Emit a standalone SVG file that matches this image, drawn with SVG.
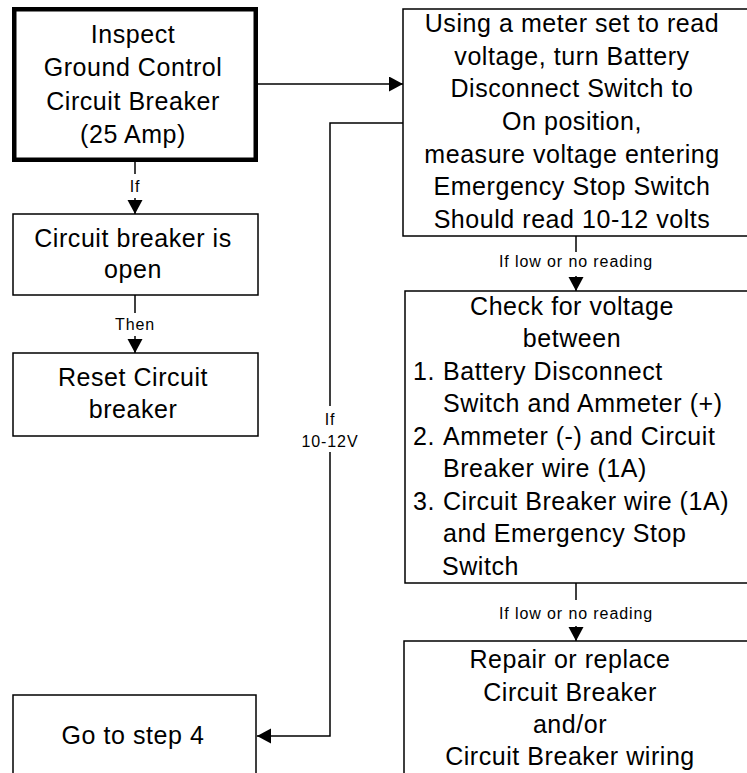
<svg xmlns="http://www.w3.org/2000/svg" width="747" height="773" viewBox="0 0 747 773">
<style>
.box{fill:#fff;stroke:#000;stroke-width:1.5}
.thick{fill:#fff;stroke:#000;stroke-width:4.5}
.t{font-family:"Liberation Sans",Arial,sans-serif;font-size:25px;letter-spacing:0.55px;fill:#000}
.c{text-anchor:middle}
.s{font-family:"Liberation Sans",Arial,sans-serif;font-size:16px;letter-spacing:0.9px;fill:#000;text-anchor:middle}
.ln{fill:none;stroke:#000;stroke-width:1.5}
.bg{fill:#fff;stroke:none}
</style>
<defs>
<marker id="arr" markerUnits="userSpaceOnUse" markerWidth="16" markerHeight="16" refX="14" refY="7.5" orient="auto" viewBox="0 0 16 16">
<path d="M0,0 L14,7.5 L0,15 Z" fill="#000"/>
</marker>
</defs>
<rect width="747" height="773" fill="#fff"/>

<g id="connectors">
<path class="ln" d="M258,84 H403" marker-end="url(#arr)"/>
<path class="ln" d="M135,162 V214" marker-end="url(#arr)"/>
<path class="ln" d="M135,295 V353" marker-end="url(#arr)"/>
<path class="ln" d="M403,123 H330 V736 H257" marker-end="url(#arr)"/>
<path class="ln" d="M576,236 V291" marker-end="url(#arr)"/>
<path class="ln" d="M576,583 V641" marker-end="url(#arr)"/>
<g id="labels">
<rect class="bg" x="124" y="174" width="22" height="24"/>
<text class="s" x="135" y="192">If</text>
<rect class="bg" x="108" y="313" width="54" height="23"/>
<text class="s" x="135" y="330">Then</text>
<rect class="bg" x="296" y="406" width="68" height="46"/>
<text class="s" x="330" y="425">If</text>
<text class="s" x="330" y="447">10-12V</text>
<rect class="bg" x="492" y="252" width="168" height="24"/>
<text class="s" x="576" y="267">If low or no reading</text>
<rect class="bg" x="492" y="600" width="168" height="26"/>
<text class="s" x="576" y="619">If low or no reading</text>
</g>
</g>

<g id="inspect">
<rect class="thick" x="14.25" y="9.25" width="241.5" height="150.5"/>
<text class="t c" x="133" y="43">Inspect</text>
<text class="t c" x="133" y="76">Ground Control</text>
<text class="t c" x="133" y="110">Circuit Breaker</text>
<text class="t c" x="133" y="143">(25 Amp)</text>
</g>

<g id="cb-open">
<rect class="box" x="13" y="214" width="245" height="81"/>
<text class="t c" x="133" y="247">Circuit breaker is</text>
<text class="t c" x="133" y="278">open</text>
</g>

<g id="reset">
<rect class="box" x="13" y="353" width="245" height="83"/>
<text class="t c" x="133" y="386">Reset Circuit</text>
<text class="t c" x="133" y="418">breaker</text>
</g>

<g id="goto4">
<rect class="box" x="13" y="695" width="243" height="100"/>
<text class="t c" x="133" y="744">Go to step 4</text>
</g>

<g id="meter">
<rect class="box" x="403" y="9" width="360" height="227"/>
<text class="t c" x="572" y="32">Using a meter set to read</text>
<text class="t c" x="572" y="64.5">voltage, turn Battery</text>
<text class="t c" x="572" y="97">Disconnect Switch to</text>
<text class="t c" x="572" y="130">On position,</text>
<text class="t c" x="572" y="162.5">measure voltage entering</text>
<text class="t c" x="572" y="195">Emergency Stop Switch</text>
<text class="t c" x="572" y="228">Should read 10-12 volts</text>
</g>

<g id="check">
<rect class="box" x="405" y="291" width="360" height="292"/>
<text class="t c" x="572" y="315">Check for voltage</text>
<text class="t c" x="572" y="347">between</text>
<text class="t" x="413" y="380">1.</text>
<text class="t" x="443" y="380">Battery Disconnect</text>
<text class="t" x="443" y="412">Switch and Ammeter (+)</text>
<text class="t" x="413" y="445">2.</text>
<text class="t" x="443" y="445">Ammeter (-) and Circuit</text>
<text class="t" x="443" y="477">Breaker wire (1A)</text>
<text class="t" x="413" y="510">3.</text>
<text class="t" x="443" y="510">Circuit Breaker wire (1A)</text>
<text class="t" x="443" y="542">and Emergency Stop</text>
<text class="t" x="442" y="575">Switch</text>
</g>

<g id="repair">
<rect class="box" x="404" y="641" width="360" height="150"/>
<text class="t c" x="570" y="668">Repair or replace</text>
<text class="t c" x="570" y="700.5">Circuit Breaker</text>
<text class="t c" x="570" y="733">and/or</text>
<text class="t c" x="570" y="765">Circuit Breaker wiring</text>
</g>
</svg>
